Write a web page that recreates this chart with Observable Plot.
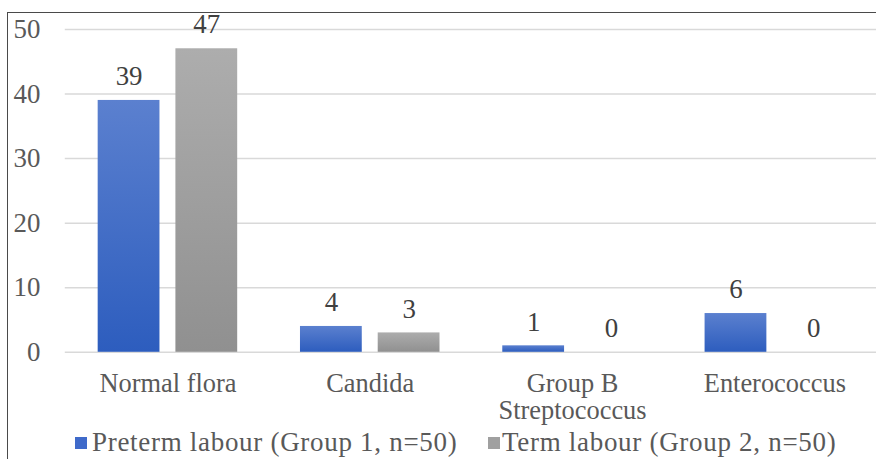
<!DOCTYPE html>
<html>
<head>
<meta charset="utf-8">
<script src="https://cdn.jsdelivr.net/npm/d3@7"></script>
<script src="https://cdn.jsdelivr.net/npm/@observablehq/plot@0.6"></script>
<style>
  html, body { margin: 0; padding: 0; background: #fff; overflow: hidden; }
  #wrap { position: relative; width: 876px; height: 459px; overflow: hidden; font-family: "Liberation Serif", "DejaVu Serif", serif; }
  #chart { position: absolute; left: 0; top: 0; }
  #chart svg text { font-family: "Liberation Serif", "DejaVu Serif", serif; }
  .frame-top { position: absolute; left: 7px; top: 12px; width: 869px; height: 0; border-top: 1.5px solid #4a4a4a; }
  .frame-left { position: absolute; left: 7px; top: 12px; width: 0; height: 447px; border-left: 1.5px solid #4a4a4a; }
  #legend { position: absolute; left: 0; top: 429px; width: 876px; height: 26px; font-size: 27px; letter-spacing: 0.7px; color: #595959; font-family: "Liberation Serif", "DejaVu Serif", serif; }
  .item { position: absolute; top: 0; white-space: nowrap; line-height: 26px; }
  .sw { position: absolute; top: 8px; width: 12px; height: 12px; }
</style>
</head>
<body>
<div id="wrap">
  <div id="chart"></div>
  <div class="frame-top"></div>
  <div class="frame-left"></div>
  <div id="legend"></div>
</div>
<script>
const categories = ["Normal flora", "Candida", "Group B Streptococcus", "Enterococcus"];
const series = ["Preterm labour (Group 1, n=50)", "Term labour (Group 2, n=50)"];
const pretermValues = [39, 4, 1, 6];
const termValues = [47, 3, 0, 0];
const yTicks = [0, 10, 20, 30, 40, 50];
const seriesColors = ["#3F6ACA", "#A0A0A0"];

const rows = [];
categories.forEach((c, i) => {
  rows.push({category: c, series: series[0], value: pretermValues[i]});
  rows.push({category: c, series: series[1], value: termValues[i]});
});
const s0 = rows.filter(d => d.series === series[0]);
const s1 = rows.filter(d => d.series === series[1]);

const chart = Plot.plot({
  width: 879,
  height: 428,
  marginLeft: 65,
  marginRight: 0,
  marginTop: 29,
  marginBottom: 75,
  style: {fontFamily: "'Liberation Serif', 'DejaVu Serif', serif", background: "transparent", overflow: "visible"},
  x: {domain: categories, paddingInner: 0.312, paddingOuter: 0.156, label: null},
  y: {domain: [0, 50], label: null},
  marks: [
    Plot.gridY(yTicks, {stroke: "#d9d9d9", strokeOpacity: 1, strokeWidth: 1.5}),
    Plot.axisY(yTicks, {tickSize: 0, tickPadding: 25, fontSize: 27, fill: "#595959", label: null}),
    Plot.axisX({tickSize: 0, tickPadding: 21, fontSize: 26.5, lineHeight: 1.02, fill: "#595959", label: null,
      tickFormat: d => d === "Group B Streptococcus" ? "Group B\nStreptococcus" : d}),
    Plot.barY(s0, {x: "category", y: "value", fill: "url(#gradBlue)", insetRight: 78}),
    Plot.barY(s1, {x: "category", y: "value", fill: "url(#gradGray)", insetLeft: 78}),
    Plot.text(s0, {x: "category", y: "value", text: d => String(d.value), dx: -39, dy: -24, fontSize: 27, fill: "#404040"}),
    Plot.text(s1, {x: "category", y: "value", text: d => String(d.value), dx: 39, dy: -24, fontSize: 27, fill: "#404040"})
  ]
});

// gradients
const ns = "http://www.w3.org/2000/svg";
const defs = document.createElementNS(ns, "defs");
function grad(id, top, bottom) {
  const g = document.createElementNS(ns, "linearGradient");
  g.setAttribute("id", id);
  g.setAttribute("x1", "0"); g.setAttribute("y1", "0");
  g.setAttribute("x2", "0"); g.setAttribute("y2", "1");
  [[0, top], [1, bottom]].forEach(([o, c]) => {
    const st = document.createElementNS(ns, "stop");
    st.setAttribute("offset", o);
    st.setAttribute("stop-color", c);
    g.appendChild(st);
  });
  defs.appendChild(g);
}
grad("gradBlue", "#5B80CF", "#2D5DBE");
grad("gradGray", "#ADADAD", "#909090");
chart.insertBefore(defs, chart.firstChild);

document.getElementById("chart").appendChild(chart);

// legend
const legend = document.getElementById("legend");
const legendPos = [{sw: 75, tx: 92}, {sw: 488, tx: 502}];
series.forEach((s, i) => {
  const sw = document.createElement("div");
  sw.className = "sw";
  sw.style.left = legendPos[i].sw + "px";
  sw.style.background = seriesColors[i];
  legend.appendChild(sw);
  const t = document.createElement("div");
  t.className = "item";
  t.style.left = legendPos[i].tx + "px";
  t.textContent = s;
  legend.appendChild(t);
});
</script>
</body>
</html>
